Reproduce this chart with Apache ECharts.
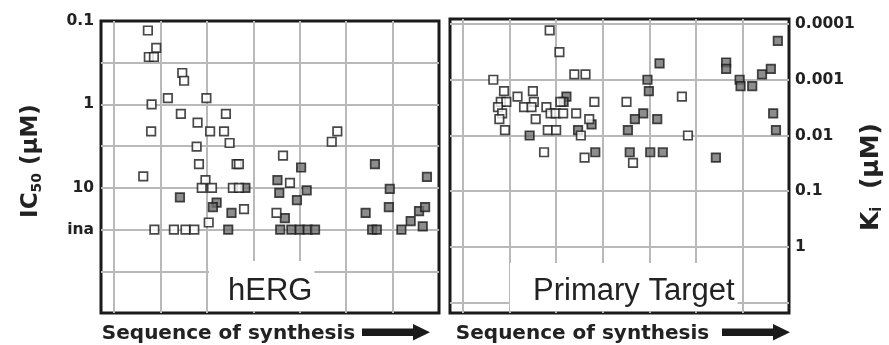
<!DOCTYPE html>
<html>
<head>
<meta charset="utf-8">
<script src="https://cdn.jsdelivr.net/npm/echarts@6/dist/echarts.min.js"></script>
<style>
  html, body { margin: 0; padding: 0; background: #fff; }
  #chart { width: 889px; height: 345px; }
</style>
</head>
<body>
<div id="chart"></div>
<script>
// sequence position (x) and measured value, read off the figure
// hERG: IC50 in uM, 'ina' = inactive
var hergOpenSeq = [1.73, 1.91, 1.75, 1.86, 2.47, 2.51, 2.16, 2.99, 1.81, 2.44, 3.41, 2.80, 1.80, 3.07, 3.37, 3.49, 2.78, 2.83, 3.64, 3.69,
	1.63, 2.97, 2.89, 3.11, 3.56, 3.69, 3.80, 3.04, 1.87, 2.29, 2.54, 2.73, 4.64, 4.79, 4.50, 5.81, 5.69];
var hergOpenIC50 = [0.13, 0.21, 0.27, 0.27, 0.42, 0.52, 0.84, 0.84, 1.0, 1.3, 1.3, 1.65, 2.1, 2.1, 2.1, 2.9, 3.2, 5.2, 5.2, 5.2,
	7.3, 8.1, 10, 10, 10, 10, 18, 26, 'ina', 'ina', 'ina', 'ina', 4.1, 8.7, 20, 2.1, 2.8];
var hergFilledSeq = [2.42, 3.21, 3.13, 3.53, 3.46, 3.83, 4.52, 4.56, 5.03, 5.15, 4.94, 4.68, 4.58, 4.82, 5.00, 5.17, 5.33,
	6.62, 6.94, 6.92, 6.42, 6.56, 6.66, 7.19, 7.39, 7.57, 7.70, 7.65, 7.74];
var hergFilledIC50 = [13, 15, 17, 20, 'ina', 10, 8.1, 11.5, 5.7, 10.7, 14, 23, 'ina', 'ina', 'ina', 'ina', 'ina',
	5.2, 10.3, 17, 20, 'ina', 'ina', 'ina', 25, 19, 17, 29, 7.4];

// primary target: Ki in uM
var targetOpenSeq = [2.86, 3.07, 3.39, 3.63, 1.65, 1.88, 2.50, 2.17, 1.81, 1.93, 2.52, 3.09, 3.82, 4.51, 1.75, 2.31, 2.47, 2.79,
	1.84, 2.88, 2.99, 3.15, 3.43, 1.78, 2.56, 3.71, 1.90, 2.82, 3.00, 3.53, 2.74, 3.61, 4.65, 5.70, 5.83];
var targetOpenKi = [0.00013, 0.00032, 0.0008, 0.0008, 0.001, 0.0016, 0.0016, 0.002, 0.0025, 0.0025, 0.0025, 0.0025, 0.0025, 0.0025,
	0.0031, 0.0031, 0.0031, 0.0031, 0.004, 0.004, 0.004, 0.004, 0.004, 0.0051, 0.0051, 0.0051, 0.008, 0.008, 0.008, 0.010,
	0.020, 0.025, 0.031, 0.002, 0.010];
var targetFilledSeq = [5.22, 4.96, 4.99, 3.22, 3.16, 4.87, 4.69, 5.17, 3.76, 3.47, 4.54, 2.43, 3.84, 4.58, 5.02, 5.29, 6.43,
	7.76, 6.65, 6.65, 6.94, 6.96, 7.21, 7.42, 7.61, 7.66, 7.72];
var targetFilledKi = [0.00051, 0.001, 0.0016, 0.002, 0.0025, 0.004, 0.0051, 0.0051, 0.0063, 0.008, 0.008, 0.010, 0.020, 0.020, 0.020, 0.020, 0.025,
	0.0002, 0.00049, 0.00064, 0.001, 0.0013, 0.0013, 0.0008, 0.00064, 0.004, 0.008];

// tick labels (log10 position, text)
var icTickPos = [-1, 0, 1, 1.5];
var icTickText = ['0.1', '1', '10', 'ina'];
var kiTickPos = [-4, -3, -2, -1, 0];
var kiTickText = ['0.0001', '0.001', '0.01', '0.1', '1'];
var seqGrid = [1, 2, 3, 4, 5, 6, 7];

var INA_POS = 1.5;

function toLog(v) {
	return v === 'ina' ? INA_POS : Math.log10(v);
}
function pairs(xs, ys) {
	var out = [];
	for (var i = 0; i < xs.length; i++) {
		out.push([xs[i], toLog(ys[i])]);
	}
	return out;
}
function tickText(pos, text) {
	return function (v) {
		for (var i = 0; i < pos.length; i++) {
			if (Math.abs(pos[i] - v) < 1e-6) return text[i];
		}
		return '';
	};
}

var boldFont = 'DejaVu Sans';
var gridLine = { show: true, lineStyle: { color: '#b9b9b9', width: 2 } };
var labelStyle = { fontFamily: boldFont, fontWeight: 'bold', fontSize: 15.5, color: '#222' };
var nameRich = {
	m: { fontFamily: boldFont, fontWeight: 'bold', fontSize: 23, color: '#222' },
	s: { fontFamily: boldFont, fontWeight: 'bold', fontSize: 14, color: '#222', padding: [11, 0, 0, 0] }
};
var kiRich = {
	m: { fontFamily: boldFont, fontWeight: 'bold', fontSize: 25, color: '#222' },
	s: { fontFamily: boldFont, fontWeight: 'bold', fontSize: 15, color: '#222', padding: [12, 0, 0, 0] }
};
var xName = { fontFamily: boldFont, fontWeight: 'bold', fontSize: 20, color: '#222' };
var boxText = { fontFamily: 'Liberation Sans', fontWeight: 'normal', fontSize: 31, color: '#222', lineHeight: 32 };

var openStyle = { color: '#ffffff', borderColor: '#1a1a1a', borderWidth: 1.7 };
var filledStyle = { color: '#707070', borderColor: '#1a1a1a', borderWidth: 1.7 };

function xAxisFor(gridIndex, padRight) {
	return {
		type: 'value', gridIndex: gridIndex, min: 0.72, max: 8,
		axisLine: { show: false }, axisLabel: { show: false },
		axisTick: { show: false, customValues: seqGrid },
		splitLine: gridLine,
		name: 'Sequence of synthesis', nameLocation: 'middle', nameGap: 11,
		nameTextStyle: Object.assign({ padding: [0, padRight, 0, 0] }, xName)
	};
}

var option = {
	animation: false,
	backgroundColor: '#fff',
	title: [
		{ text: 'hERG', left: 209, top: 261, padding: [14, 2, 4, 19], backgroundColor: '#fff', textStyle: boxText },
		{ text: 'Primary Target', left: 510, top: 263, padding: [12, 3, 4, 23], backgroundColor: '#fff', textStyle: boxText }
	],
	grid: [
		{ left: 101, right: 450, top: 21, bottom: 32, show: true, borderColor: '#1a1a1a', borderWidth: 3, outerBoundsMode: 'none' },
		{ left: 450, right: 100, top: 19, bottom: 32, show: true, borderColor: '#1a1a1a', borderWidth: 3, outerBoundsMode: 'none' }
	],
	xAxis: [xAxisFor(0, 83), xAxisFor(1, 74)],
	yAxis: [
		{
			type: 'value', gridIndex: 0, min: -1, max: 2.5, inverse: true,
			axisLine: { show: false },
			axisTick: { show: false, customValues: [-0.5, 0, 0.5, 1, 1.5, 2] },
			axisLabel: Object.assign({ customValues: icTickPos, margin: 7, formatter: tickText(icTickPos, icTickText) }, labelStyle),
			splitLine: gridLine,
			name: '{m|IC}{s|50}{m| (μM)}', nameLocation: 'middle', nameRotate: 90, nameGap: 57,
			nameTextStyle: { rich: nameRich, padding: [0, 0, 0, 12] }
		},
		{
			type: 'value', gridIndex: 1, position: 'right', min: -4.09, max: 1.185, inverse: true,
			axisLine: { show: false },
			axisTick: { show: false, customValues: [-4, -3, -2, -1, 0, 1] },
			axisLabel: Object.assign({ customValues: kiTickPos, margin: 6, formatter: tickText(kiTickPos, kiTickText) }, labelStyle),
			splitLine: gridLine,
			name: '{m|K}{s|i}{m|  (μM)}', nameLocation: 'middle', nameRotate: 90, nameGap: 68,
			nameTextStyle: { rich: kiRich, padding: [0, 22, 0, 0] }
		}
	],
	graphic: [
		{ type: 'polygon', shape: { points: [[362, 328.5], [413, 328.5], [413, 324], [430, 332.3], [413, 340.6], [413, 336], [362, 336]] }, style: { fill: '#1a1a1a' } },
		{ type: 'polygon', shape: { points: [[722, 328.5], [773, 328.5], [773, 324], [790, 332.3], [773, 340.6], [773, 336], [722, 336]] }, style: { fill: '#1a1a1a' } }
	],
	series: [
		{ type: 'scatter', xAxisIndex: 0, yAxisIndex: 0, symbol: 'rect', symbolSize: 8.5, itemStyle: filledStyle, data: pairs(hergFilledSeq, hergFilledIC50), z: 3 },
		{ type: 'scatter', xAxisIndex: 0, yAxisIndex: 0, symbol: 'rect', symbolSize: 8.5, itemStyle: openStyle, data: pairs(hergOpenSeq, hergOpenIC50), z: 4 },
		{ type: 'scatter', xAxisIndex: 1, yAxisIndex: 1, symbol: 'rect', symbolSize: 8.5, itemStyle: filledStyle, data: pairs(targetFilledSeq, targetFilledKi), z: 3 },
		{ type: 'scatter', xAxisIndex: 1, yAxisIndex: 1, symbol: 'rect', symbolSize: 8.5, itemStyle: openStyle, data: pairs(targetOpenSeq, targetOpenKi), z: 4 }
	]
};

var myChart = echarts.init(document.getElementById('chart'));
myChart.setOption(option);
</script>
</body>
</html>
